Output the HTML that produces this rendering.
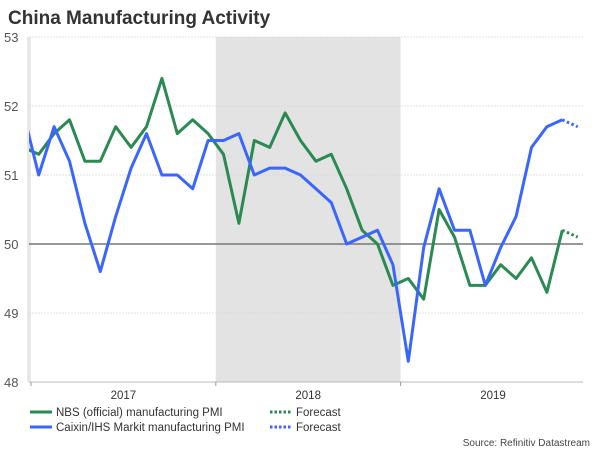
<!DOCTYPE html>
<html><head><meta charset="utf-8"><style>
body{margin:0;background:#fff;}
svg{display:block;font-family:"Liberation Sans",Arial,sans-serif;}
</style></head><body>
<svg id="chart" width="600" height="450">
<text x="8" y="24" font-size="19" font-weight="bold" fill="#333">China Manufacturing Activity</text>
<defs><clipPath id="clip"><rect x="29" y="30" width="560" height="360"/></clipPath></defs>
<g id="bg"></g><g id="grid"></g><g id="series" clip-path="url(#clip)"></g><g id="axes"></g>
<g>
<line x1="30" y1="412" x2="52" y2="412" stroke="#2a8a52" stroke-width="3"/>
<text x="56" y="416" font-size="11.5" fill="#333">NBS (official) manufacturing PMI</text>
<line x1="30" y1="427" x2="52" y2="427" stroke="#3a66ff" stroke-width="3"/>
<text x="56" y="431" font-size="11.5" fill="#333">Caixin/IHS Markit manufacturing PMI</text>
<line x1="270" y1="412" x2="292" y2="412" stroke="#2a8a52" stroke-width="3" stroke-dasharray="2.5,2"/>
<text x="296" y="416" font-size="11.5" fill="#333">Forecast</text>
<line x1="270" y1="427" x2="292" y2="427" stroke="#3a66ff" stroke-width="3" stroke-dasharray="2.5,2"/>
<text x="296" y="431" font-size="11.5" fill="#333">Forecast</text>
</g>
<text x="590" y="446" font-size="10" fill="#444" text-anchor="end">Source: Refinitiv Datastream</text>
</svg>
<script>
// months Dec 2016 .. Nov 2019 (index -1 .. 34), forecast Dec 2019
const nbs = [51.4,51.3,51.6,51.8,51.2,51.2,51.7,51.4,51.7,52.4,51.6,51.8,51.6,51.3,50.3,51.5,51.4,51.9,51.5,51.2,51.3,50.8,50.2,50.0,49.4,49.5,49.2,50.5,50.1,49.4,49.4,49.7,49.5,49.8,49.3,50.2];
const caixin = [51.9,51.0,51.7,51.2,50.3,49.6,50.4,51.1,51.6,51.0,51.0,50.8,51.5,51.5,51.6,51.0,51.1,51.1,51.0,50.8,50.6,50.0,50.1,50.2,49.7,48.3,49.95,50.8,50.2,50.2,49.4,49.95,50.4,51.4,51.7,51.8];
const nbsForecast = [50.1];
const caixinForecast = [51.7];
const yTicks = [48,49,50,51,52,53];
const years = ["2017","2018","2019"];
const shadedYears = [1];

const NS="http://www.w3.org/2000/svg";
const X0=31, MW=15.4, YT=37, YB=382, XR=583;
const xm = i => X0 + MW*(i+0.5);          // i: month index from Jan 2017
const y = v => YB - (v-48)*(YB-YT)/5;
function el(tag, attrs, parent){const e=document.createElementNS(NS,tag);for(const k in attrs)e.setAttribute(k,attrs[k]);parent.appendChild(e);return e;}
const bg=document.getElementById('bg'), grid=document.getElementById('grid'), ser=document.getElementById('series'), ax=document.getElementById('axes');

el('rect',{x:27,y:YT,width:4,height:YB-YT,fill:'#e8e8e8'},bg);
shadedYears.forEach(k=>{
  const r=el('rect',{x:X0+k*12*MW,y:YT,width:12*MW,height:YB-YT,fill:'#e3e3e3'},bg);
  
  
});
yTicks.forEach(t=>{
  if(t!==48 && t!==50){el('line',{x1:29,x2:XR,y1:y(t),y2:y(t),stroke:'#d8d8d8','stroke-width':0.8,'stroke-dasharray':'2,1'},grid);}
  const tx=el('text',{x:4,y:y(t)+5,'font-size':13,fill:'#555'},ax);
  tx.textContent=t;
  
  
});
const ref=el('line',{x1:29,x2:XR,y1:y(50),y2:y(50),stroke:'#777','stroke-width':1.5},grid);


el('line',{x1:29,x2:XR,y1:YB,y2:YB,stroke:'#bbb','stroke-width':1},ax);
years.forEach((yr,k)=>{
  el('line',{x1:X0+k*12*MW,x2:X0+k*12*MW,y1:YB,y2:YB+4,stroke:'#999'},ax);
  const t=el('text',{x:X0+(k+0.5)*12*MW,y:YB+17,'font-size':11.5,fill:'#333','text-anchor':'middle'},ax);
  t.textContent=yr;
  
  
});
function line(vals, color, name){
  const pts=vals.map((v,i)=>xm(i-1)+','+y(v)).join(' ');
  const p=el('polyline',{points:pts,fill:'none',stroke:color,'stroke-width':3,'stroke-linejoin':'round'},ser);
  
  
}
function fc(vals, fvals, color, name){
  const n=vals.length;
  const pts=[xm(n-2)+','+y(vals[n-1])].concat(fvals.map((v,i)=>xm(n-1+i)+','+y(v))).join(' ');
  const p=el('polyline',{points:pts,fill:'none',stroke:color,'stroke-width':3,'stroke-dasharray':'2.5,2.5'},ser);
  
  
}
line(nbs,'#2a8a52','nbs-pmi-line');
line(caixin,'#3a66ff','caixin-pmi-line');
fc(nbs,nbsForecast,'#2a8a52','nbs-forecast-line');
fc(caixin,caixinForecast,'#3a66ff','caixin-forecast-line');
</script>
</body></html>
